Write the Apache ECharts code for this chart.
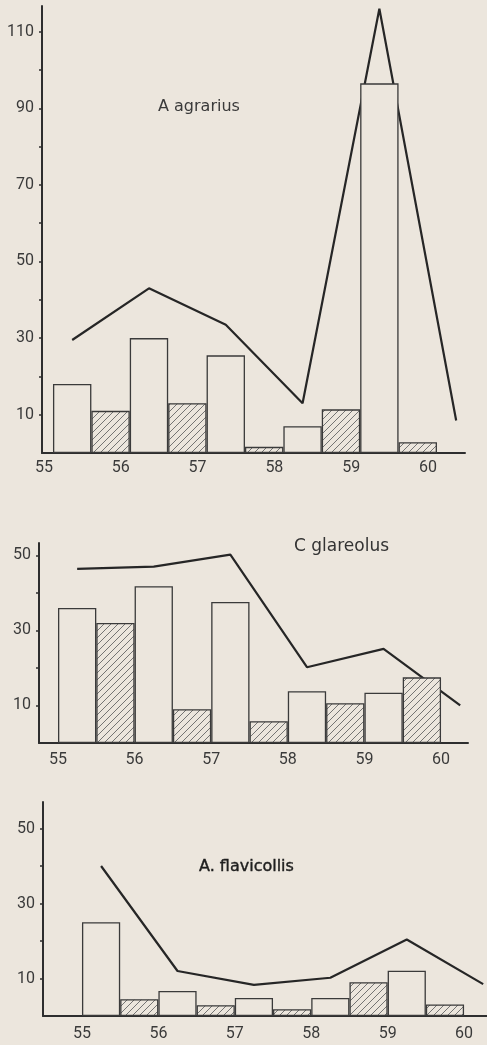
<!DOCTYPE html>
<html>
<head>
<meta charset="utf-8">
<script src="https://cdn.jsdelivr.net/npm/echarts@6/dist/echarts.min.js"></script>
<style>
html, body { margin: 0; padding: 0; background: #ece6dd; }
#chart { width: 487px; height: 1045px; }
</style>
</head>
<body>
<div id="chart"></div>
<script>
var years = [55, 56, 57, 58, 59];
var lineYears = [55, 56, 57, 58, 59, 60];
var xLabels = [55, 56, 57, 58, 59, 60];

var agrariusOpen = [18, 30, 25.5, 7, 96.5];
var agrariusHatched = [11, 13, 1.6, 11.4, 2.8];
var agrariusLine = [29.5, 43, 33.5, 13, 116, 8.5];

var glareolusOpen = [36, 41.8, 37.6, 13.8, 13.4];
var glareolusHatched = [32, 9, 5.8, 10.6, 17.5];
var glareolusLine = [46.4, 47, 50.2, 20.2, 25.1, 10];

var flavicollisOpen = [25, 6.7, 4.8, 4.8, 12.1];
var flavicollisHatched = [4.5, 2.9, 1.8, 9, 3.1];
var flavicollisLine = [40, 12, 8.3, 10.2, 20.4, 8.5];

var ticks1 = [10, 20, 30, 40, 50, 60, 70, 80, 90, 100, 110];
var labels1 = [10, 30, 50, 70, 90, 110];
var ticks2 = [10, 20, 30, 40, 50];
var labels2 = [10, 30, 50];

var bg = '#ece6dd';
var ink = '#2e2e2e';
var font = 'Roboto, sans-serif';

function hatch() {
  var c = document.createElement('canvas');
  c.width = 7;
  c.height = 7;
  var g = c.getContext('2d');
  g.fillStyle = bg;
  g.fillRect(0, 0, 7, 7);
  g.strokeStyle = '#666';
  g.lineWidth = 0.9;
  g.beginPath();
  g.moveTo(0, 7); g.lineTo(7, 0);
  g.moveTo(-1, 1); g.lineTo(1, -1);
  g.moveTo(6, 8); g.lineTo(8, 6);
  g.stroke();
  return c;
}
var hatchImg = hatch();

function pairs(xs, vals, shift) {
  return vals.map(function (v, i) { return [xs[i] + shift, v]; });
}

var grids = [
  { left: 42, top: 6, width: 423, height: 447 },
  { left: 39, top: 543, width: 429, height: 200 },
  { left: 43, top: 802, width: 444, height: 214 }
];
var xRange = [[54.857, 60.365], [54.752, 60.352], [54.49, 60.3]];
var yMax = [116.7, 53.3, 57.07];
var yTicks = [ticks1, ticks2, ticks2];
var yLabels = [labels1, labels2, labels2];
var labelShift = [9, 0, 0];
var labelMargin = [7, 9, 10];
var panels = [
  [agrariusOpen, agrariusHatched, agrariusLine],
  [glareolusOpen, glareolusHatched, glareolusLine],
  [flavicollisOpen, flavicollisHatched, flavicollisLine]
];
var barW = [38.4, 38.3, 38.2];

var option = {
  backgroundColor: bg,
  animation: false,
  title: [
    { text: 'A agrarius', left: 153, top: 94, textStyle: { fontFamily: 'DejaVu Sans', fontSize: 16, fontWeight: 'normal', color: '#3a3a3a' } },
    { text: 'C glareolus', left: 289, top: 533, textStyle: { fontFamily: 'DejaVu Sans', fontSize: 17, fontWeight: 'normal', color: '#333' } },
    { text: 'A. flavicollis', left: 194, top: 854, textStyle: { fontFamily: 'DejaVu Sans', fontSize: 16, fontWeight: 'normal', color: '#1e1e1e', textBorderColor: '#1e1e1e', textBorderWidth: 0.4 } }
  ],
  grid: grids.map(function (g) {
    return Object.assign({ containLabel: false, outerBoundsMode: 'none' }, g);
  }),
  xAxis: [],
  yAxis: [],
  series: []
};

grids.forEach(function (g, k) {
  option.xAxis.push({
    type: 'value', gridIndex: k, min: xRange[k][0], max: xRange[k][1],
    axisLine: { show: true, onZero: false, lineStyle: { color: ink, width: 2 } },
    axisTick: { show: false },
    splitLine: { show: false },
    axisLabel: {
      customValues: xLabels, margin: labelMargin[k], fontFamily: font, fontSize: 16, color: '#3a3a3a',
      padding: [0, labelShift[k] * 2, 0, 0]
    }
  });
  option.yAxis.push({
    type: 'value', gridIndex: k, min: 0, max: yMax[k],
    axisLine: { show: true, lineStyle: { color: ink, width: 2 } },
    axisTick: { show: true, length: 3, customValues: yTicks[k], lineStyle: { color: ink, width: 1.5 } },
    splitLine: { show: false },
    axisLabel: { customValues: yLabels[k], margin: 8, fontFamily: font, fontSize: 16, color: '#3a3a3a' }
  });
  var d = panels[k];
  option.series.push({
    type: 'line', xAxisIndex: k, yAxisIndex: k, zlevel: 0, z: 1,
    data: pairs(lineYears, d[2], 0.25),
    symbol: 'none',
    lineStyle: { color: '#262626', width: 2.2 }
  });
  option.series.push({
    type: 'bar', xAxisIndex: k, yAxisIndex: k, zlevel: 1, z: 3,
    data: pairs(years, d[0], 0.25),
    barWidth: barW[k], barGap: '-100%',
    itemStyle: { color: bg, borderColor: '#3a3a3a', borderWidth: 1.3 }
  });
  option.series.push({
    type: 'bar', xAxisIndex: k, yAxisIndex: k, zlevel: 1, z: 3,
    data: pairs(years, d[1], 0.75),
    barWidth: barW[k], barGap: '-100%',
    itemStyle: { color: { image: hatchImg, repeat: 'repeat' }, borderColor: '#3a3a3a', borderWidth: 1.3 }
  });
});

var chart = echarts.init(document.getElementById('chart'), null, { renderer: 'canvas' });
chart.setOption(option);
</script>
</body>
</html>
